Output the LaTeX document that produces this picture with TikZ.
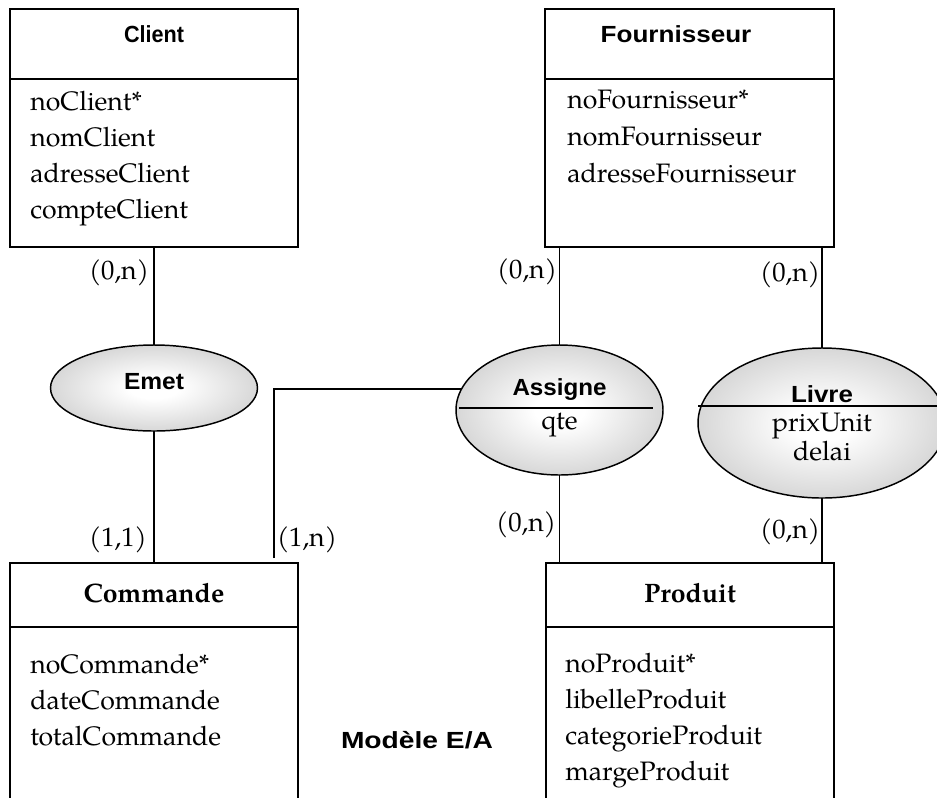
\documentclass[tikz,border=0pt]{standalone}
\usepackage{fontspec}
\usepackage{graphicx}
\setmainfont{TeX Gyre Pagella}
\newfontfamily\headfont{Liberation Sans}
\usetikzlibrary{shapes.geometric,calc}
\definecolor{ovaledge}{gray}{0.64}
\pgfdeclareradialshading{ovalshade}{\pgfpointorigin}{color(0bp)=(white); color(6bp)=(white); color(50bp)=(ovaledge)}
% set a label to a given width, keeping its height
\newcommand\fitw[2]{\resizebox{#1}{\height}{#2}}
\tikzset{
  entity/.style={draw, rectangle, line width=1.4pt, inner sep=0pt, outer sep=0pt},
  rel/.style={draw, ellipse, line width=1.1pt, shading=ovalshade, inner sep=0pt, outer sep=0pt},
  wire/.style={line width=1.2pt},
  rule/.style={line width=1.4pt},
  head/.style={font=\headfont\bfseries\fontsize{17.5}{20}\selectfont, anchor=base, inner sep=0pt},
  bhead/.style={font=\bfseries\fontsize{20}{24}\selectfont, anchor=base, inner sep=0pt},
  attr/.style={font=\fontsize{20}{24}\selectfont, anchor=base west, inner sep=0pt},
  midattr/.style={font=\fontsize{20}{24}\selectfont, anchor=base, inner sep=0pt},
  card/.style={font=\fontsize{20}{24}\selectfont, inner sep=0pt}
}
\begin{document}
\begin{tikzpicture}[x=0.75pt, y=-0.75pt]
\useasboundingbox (0,0) rectangle (937,797);
\clip (0,0) rectangle (937,797);

% entities
\node[entity, minimum width=216pt, minimum height=178.5pt] (client) at (154,128) {};
\node[entity, minimum width=216.75pt, minimum height=178.5pt] (fourn) at (689.5,128) {};
\node[entity, minimum width=216pt, minimum height=181.5pt] (cmd) at (154,684) {};
\node[entity, minimum width=216pt, minimum height=181.5pt] (prod) at (690,684) {};

% title rules
\draw[rule] ($(client.north west)+(0,70)$) -- ($(client.north east)+(0,70)$);
\draw[rule] ($(fourn.north west)+(0,70)$) -- ($(fourn.north east)+(0,70)$);
\draw[rule] ($(cmd.north west)+(0,64)$) -- ($(cmd.north east)+(0,64)$);
\draw[rule] ($(prod.north west)+(0,64)$) -- ($(prod.north east)+(0,64)$);

% entity titles
\node[head] (client-t) at (154,42) {\fitw{45pt}{Client}};
\node[head] (fourn-t) at (676,42) {\fitw{113pt}{Fournisseur}};
\node[bhead] (cmd-t) at (154,602) {Commande};
\node[bhead] (prod-t) at (690,602) {Produit};

% attributes
\node[attr] (client-a1) at (30,110) {noClient*};
\node[attr] (client-a2) at (30,146) {nomClient};
\node[attr] (client-a3) at (30,182) {adresseClient};
\node[attr] (client-a4) at (30,218) {compteClient};

\node[attr] (fourn-a1) at (567,108) {noFournisseur*};
\node[attr] (fourn-a2) at (567,145) {nomFournisseur};
\node[attr] (fourn-a3) at (567,182) {adresseFournisseur};

\node[attr] (cmd-a1) at (30,673) {noCommande*};
\node[attr] (cmd-a2) at (30,709) {dateCommande};
\node[attr] (cmd-a3) at (30,745) {totalCommande};

\node[attr] (prod-a1) at (565,672) {noProduit*};
\node[attr] (prod-a2) at (565,708) {libelleProduit};
\node[attr] (prod-a3) at (565,744) {categorieProduit};
\node[attr] (prod-a4) at (565,780) {margeProduit};

% relationships
\node[rel, minimum width=155.25pt, minimum height=64.5pt] (emet) at (154,388) {};
\node[rel, minimum width=155.25pt, minimum height=97.5pt] (assigne) at (559.5,410) {};
\node[rel, minimum width=186pt, minimum height=112.5pt] (livre) at (822,423) {};

\draw[wire] ($(assigne.center)+(-100.5,-2)$) -- ($(assigne.center)+(93.5,-2)$);
\draw[wire] ($(livre.center)+(-124,-17)$) -- ($(livre.center)+(130,-17)$);

\node[head] (emet-t) at (154,389) {\fitw{45pt}{Emet}};
\node[head] (assigne-t) at (559.5,395) {\fitw{70.5pt}{Assigne}};
\node[midattr] (assigne-a1) at (559.5,429) {qte};
\node[head] (livre-t) at (822,402) {\fitw{46.5pt}{Livre}};
\node[midattr] (livre-a1) at (822,431) {prixUnit};
\node[midattr] (livre-a2) at (822,460) {delai};

% connectors
\draw[wire] (client) -- (emet);
\draw[wire] (emet) -- (cmd);
\draw[wire] (assigne.north |- fourn.south) -- (assigne.north);
\draw[wire] (assigne.south) -- (assigne.south |- prod.north);
\draw[wire] (livre.north |- fourn.south) -- (livre.north);
\draw[wire] (livre.south) -- (livre.south |- prod.north);
\coordinate (cmd-foot) at (274,558);
\draw[wire] (cmd-foot) |- (assigne.168);

% cardinalities
\node[card] (c-client) at (119,273) {(0,n)};
\node[card] (c-cmd1) at (118,540) {(1,1)};
\node[card] (c-cmd2) at (307,540) {(1,n)};
\node[card] (c-fourn1) at (527,272) {(0,n)};
\node[card] (c-prod1) at (526,525) {(0,n)};
\node[card] (c-fourn2) at (790,275) {(0,n)};
\node[card] (c-prod2) at (790,532) {(0,n)};

% caption
\node[head] (caption) at (417,748) {\fitw{114pt}{Modèle E/A}};
\end{tikzpicture}
\end{document}
